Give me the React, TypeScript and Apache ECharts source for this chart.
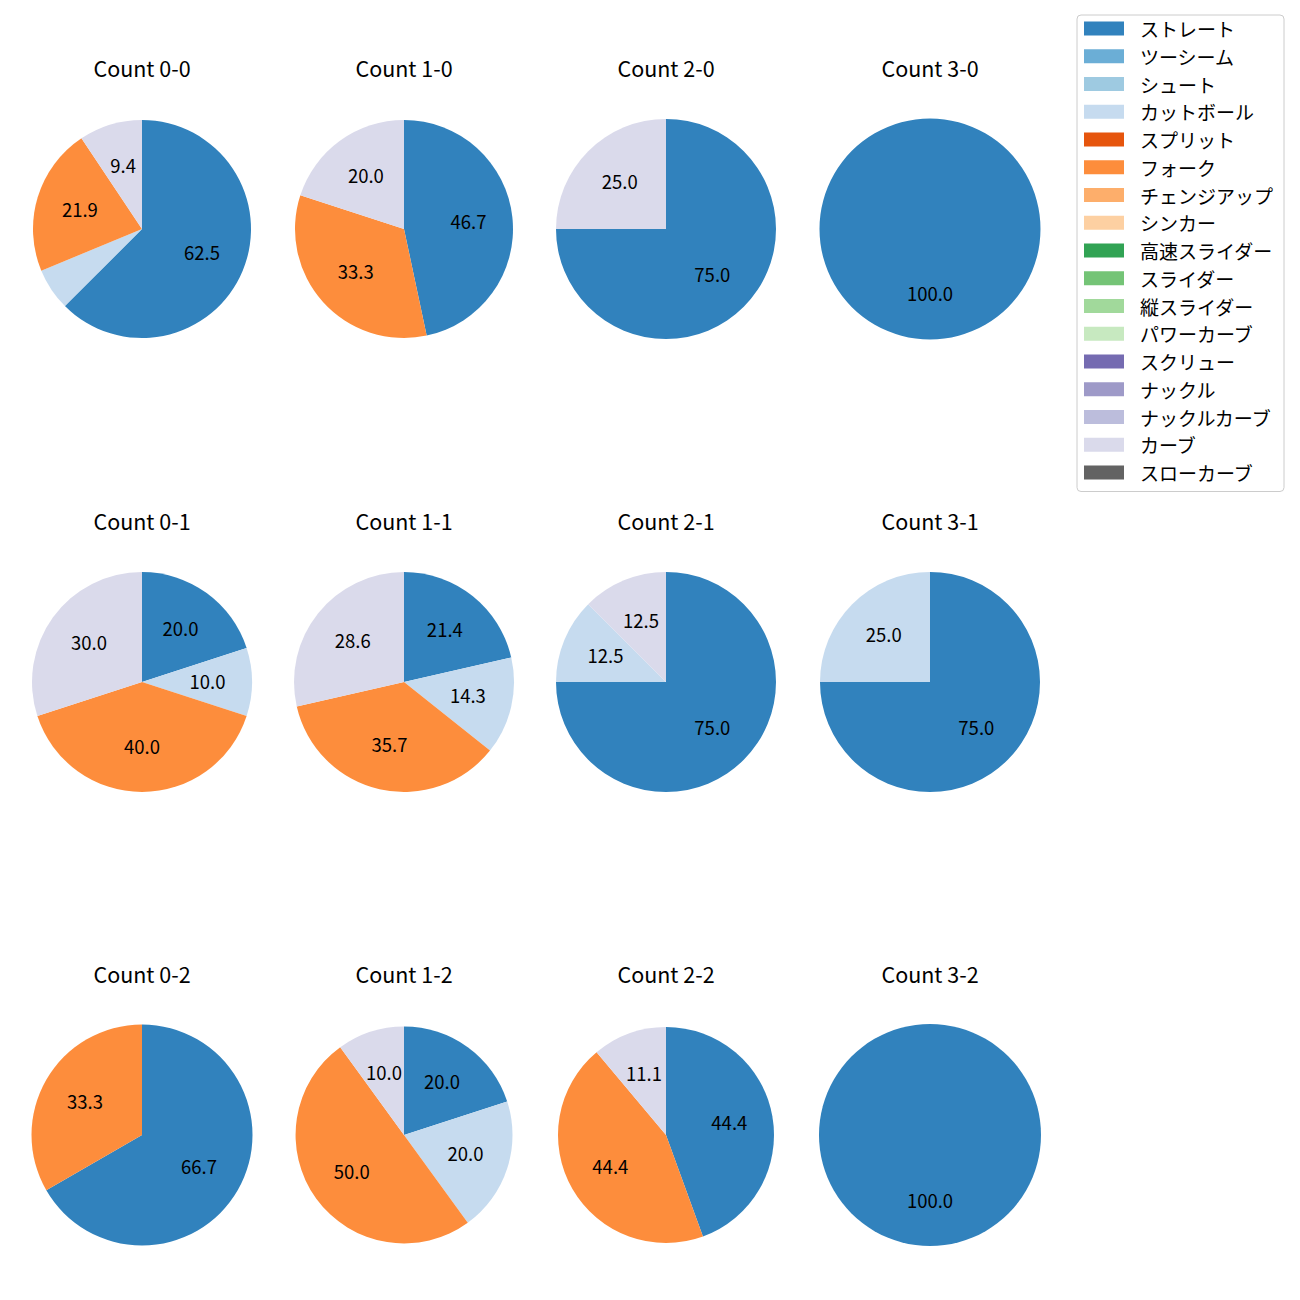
import React, { useEffect, useRef } from "react";
import * as echarts from "echarts";

const PITCHES = [
  "ストレート", "ツーシーム", "シュート", "カットボール", "スプリット", "フォーク",
  "チェンジアップ", "シンカー", "高速スライダー", "スライダー", "縦スライダー",
  "パワーカーブ", "スクリュー", "ナックル", "ナックルカーブ", "カーブ", "スローカーブ",
];
const COLORS = [
  "#3182bd", "#6baed6", "#9ecae1", "#c6dbef", "#e6550d", "#fd8d3c",
  "#fdae6b", "#fdd0a2", "#31a354", "#74c476", "#a1d99b", "#c7e9c0",
  "#756bb1", "#9e9ac8", "#bcbddc", "#dadaeb", "#636363",
];

const COUNT_TITLES = [
  "Count 0-0", "Count 1-0", "Count 2-0", "Count 3-0",
  "Count 0-1", "Count 1-1", "Count 2-1", "Count 3-1",
  "Count 0-2", "Count 1-2", "Count 2-2", "Count 3-2",
];

// pitch counts per ball-strike count, in PITCHES order
const c00 = [20, 0, 0, 2, 0, 7, 0, 0, 0, 0, 0, 0, 0, 0, 0, 3, 0];
const c10 = [7, 0, 0, 0, 0, 5, 0, 0, 0, 0, 0, 0, 0, 0, 0, 3, 0];
const c20 = [3, 0, 0, 0, 0, 0, 0, 0, 0, 0, 0, 0, 0, 0, 0, 1, 0];
const c30 = [1, 0, 0, 0, 0, 0, 0, 0, 0, 0, 0, 0, 0, 0, 0, 0, 0];
const c01 = [2, 0, 0, 1, 0, 4, 0, 0, 0, 0, 0, 0, 0, 0, 0, 3, 0];
const c11 = [3, 0, 0, 2, 0, 5, 0, 0, 0, 0, 0, 0, 0, 0, 0, 4, 0];
const c21 = [6, 0, 0, 1, 0, 0, 0, 0, 0, 0, 0, 0, 0, 0, 0, 1, 0];
const c31 = [3, 0, 0, 1, 0, 0, 0, 0, 0, 0, 0, 0, 0, 0, 0, 0, 0];
const c02 = [2, 0, 0, 0, 0, 1, 0, 0, 0, 0, 0, 0, 0, 0, 0, 0, 0];
const c12 = [2, 0, 0, 2, 0, 5, 0, 0, 0, 0, 0, 0, 0, 0, 0, 1, 0];
const c22 = [4, 0, 0, 0, 0, 4, 0, 0, 0, 0, 0, 0, 0, 0, 0, 1, 0];
const c32 = [1, 0, 0, 0, 0, 0, 0, 0, 0, 0, 0, 0, 0, 0, 0, 0, 0];
const COUNT_DATA = [c00, c10, c20, c30, c01, c11, c21, c31, c02, c12, c22, c32];

// layout (pixels)
const COL_X = [142, 404, 666, 930];
const ROW_Y = [229, 682, 1135];
const RADII = [109, 109, 110, 110.5, 110, 110, 110, 110, 110.5, 108.5, 108, 111];
const TITLE_DY = -162;

const FONT = "'Noto Sans CJK JP', 'Noto Sans', sans-serif";

export default function App() {
  const ref = useRef<HTMLDivElement>(null);
  useEffect(() => {
    if (!ref.current) return;
    const chart = echarts.init(ref.current, null, { renderer: "svg" });
    const series: any[] = [];
    const graphics: any[] = [];
    COUNT_DATA.forEach((vals, i) => {
      const cx = COL_X[i % 4];
      const cy = ROW_Y[Math.floor(i / 4)];
      const r = RADII[i];
      const total = vals.reduce((a, b) => a + b, 0);
      series.push({
        type: "pie",
        center: [cx, cy],
        radius: [0, r],
        startAngle: 90,
        clockwise: true,
        silent: true,
        label: { show: false },
        labelLine: { show: false },
        itemStyle: { borderWidth: 0 },
        emphasis: { disabled: true },
        data: vals.map((v, k) => ({ name: PITCHES[k], value: v, itemStyle: { color: COLORS[k] } })),
      });
      // transparent overlay ring that carries the percentage labels
      series.push({
        type: "pie",
        center: [cx, cy],
        radius: [r * 0.2 - 7, r],
        startAngle: 90,
        clockwise: true,
        silent: true,
        itemStyle: { color: "rgba(0,0,0,0)", borderWidth: 0 },
        emphasis: { disabled: true },
        labelLine: { show: false },
        label: {
          show: true,
          position: "inside",
          fontFamily: FONT,
          fontSize: 18.5,
          color: "#000",
          offset: [0, -1.5],
          formatter: (p: any) => {
            const pct = (p.value / total) * 100;
            return pct >= 7 ? pct.toFixed(1) : "";
          },
        },
        data: vals.map((v, k) => ({ name: "_" + k, value: v })),
      });
      graphics.push({
        type: "text",
        x: cx,
        y: cy + TITLE_DY,
        style: {
          text: COUNT_TITLES[i],
          textAlign: "center",
          textVerticalAlign: "middle",
          fontFamily: FONT,
          fontSize: 21.5,
          fill: "#000",
        },
      });
    });
    chart.setOption({
      animation: false,
      backgroundColor: "#fff",
      legend: {
        orient: "vertical",
        left: 1077,
        top: 15,
        padding: [4, 11, 9.5, 7],
        itemWidth: 40,
        itemHeight: 14,
        itemGap: 8.75,
        icon: "rect",
        selectedMode: false,
        borderColor: "#cccccc",
        borderWidth: 1,
        borderRadius: 4,
        backgroundColor: "#fff",
        textStyle: {
          fontFamily: FONT,
          fontSize: 19,
          lineHeight: 19,
          color: "#000",
          padding: [0, 0, 0, 11],
        },
        data: PITCHES,
      },
      graphic: graphics,
      series,
    });
    return () => chart.dispose();
  }, []);
  return (
    <div
      ref={ref}
      style={{ position: "absolute", left: 0, top: 0, width: 1300, height: 1300 }}
    />
  );
}
